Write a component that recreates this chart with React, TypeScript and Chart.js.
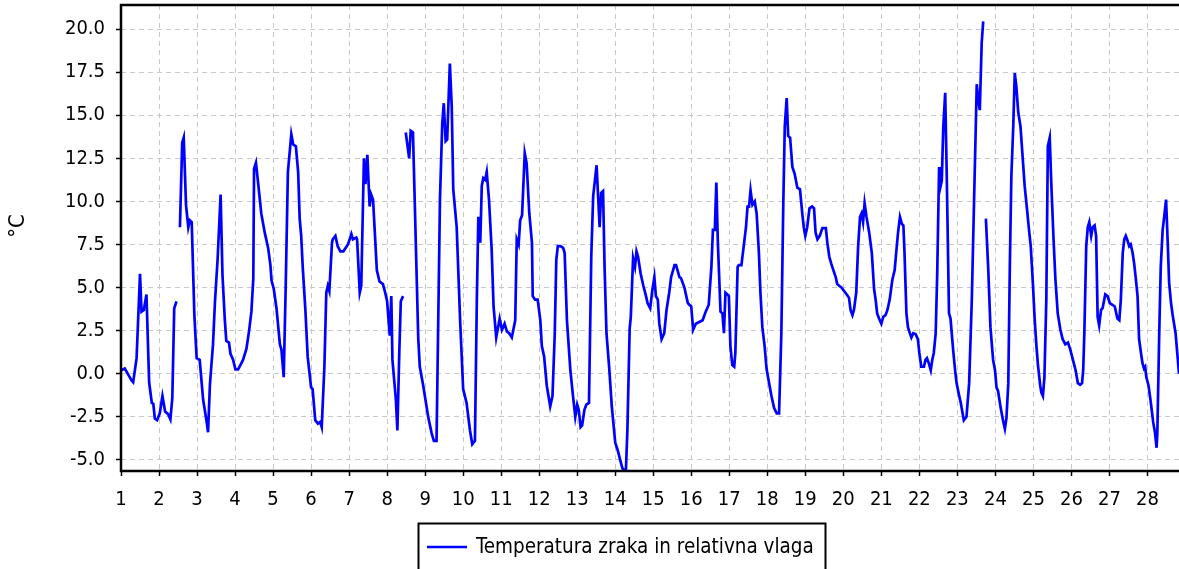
import React, { useEffect, useRef } from "react";
import { Chart, registerables } from "chart.js";

Chart.register(...registerables);

// ---------- data ----------
const seriesLabel = "Temperatura zraka in relativna vlaga";
const yAxisTitle = "°C";
const dayTicks = [1, 2, 3, 4, 5, 6, 7, 8, 9, 10, 11, 12, 13, 14, 15, 16, 17, 18, 19, 20, 21, 22, 23, 24, 25, 26, 27, 28];
const tempTicks = [-5, -2.5, 0, 2.5, 5, 7.5, 10, 12.5, 15, 17.5, 20];

// segment 1 (day 1 – 2.5)
const days1 = [1.0, 1.1, 1.28, 1.32, 1.41, 1.5, 1.54, 1.6, 1.67, 1.74, 1.81, 1.85, 1.89, 1.95, 2.02, 2.09, 2.16, 2.24, 2.3, 2.35, 2.4, 2.46];
const temps1 = [0.2, 0.3, -0.4, -0.5, 0.9, 5.8, 3.6, 3.7, 4.6, -0.5, -1.7, -1.75, -2.6, -2.7, -2.3, -1.3, -2.2, -2.35, -2.65, -1.4, 3.8, 4.2];

// segment 2 (day 2.5 – 8.4)
const days2 = [2.55, 2.61, 2.65, 2.71, 2.77, 2.81, 2.86, 2.93, 2.99, 3.07, 3.16, 3.25, 3.29, 3.34, 3.42, 3.47, 3.54, 3.62, 3.67, 3.73, 3.77, 3.84, 3.88, 3.95, 4.01, 4.08, 4.14, 4.21, 4.3, 4.37, 4.43, 4.48, 4.5, 4.55, 4.61, 4.69, 4.78, 4.87, 4.93, 4.96, 5.02, 5.09, 5.18, 5.22, 5.28, 5.33, 5.39, 5.48, 5.53, 5.6, 5.66, 5.7, 5.74, 5.78, 5.85, 5.91, 6.0, 6.04, 6.11, 6.18, 6.24, 6.28, 6.35, 6.4, 6.44, 6.48, 6.55, 6.57, 6.64, 6.7, 6.77, 6.85, 6.97, 7.06, 7.1, 7.19, 7.21, 7.28, 7.32, 7.39, 7.43, 7.48, 7.54, 7.58, 7.63, 7.73, 7.8, 7.89, 7.95, 8.0, 8.07, 8.11, 8.14, 8.23, 8.27, 8.32, 8.36, 8.42];
const temps2 = [8.5, 13.4, 13.7, 9.8, 8.5, 8.9, 8.8, 3.4, 0.9, 0.8, -1.5, -2.75, -3.4, -0.6, 1.7, 4.1, 6.6, 10.4, 5.7, 3.15, 1.9, 1.8, 1.15, 0.8, 0.25, 0.25, 0.5, 0.8, 1.45, 2.5, 3.6, 5.5, 11.9, 12.25, 11.0, 9.3, 8.2, 7.3, 6.3, 5.4, 4.9, 3.8, 1.7, 1.4, -0.2, 4.8, 11.7, 13.9, 13.3, 13.2, 11.7, 9.0, 8.0, 6.2, 3.7, 1.0, -0.8, -0.9, -2.7, -2.9, -2.8, -3.1, 0.4, 4.7, 5.1, 4.8, 7.6, 7.8, 8.0, 7.4, 7.1, 7.1, 7.5, 8.1, 7.8, 7.9, 7.8, 4.7, 5.1, 12.5, 11.0, 12.7, 9.7, 10.4, 10.1, 6.0, 5.35, 5.2, 4.7, 4.2, 2.2, 4.5, 0.8, -1.5, -3.3, 1.2, 4.2, 4.5];

// segment 3 (day 8.5 – 23.7)
const days3 = [8.49, 8.58, 8.62, 8.68, 8.82, 8.86, 8.95, 9.08, 9.17, 9.23, 9.3, 9.39, 9.45, 9.49, 9.54, 9.58, 9.65, 9.7, 9.74, 9.83, 9.92, 10.0, 10.09, 10.18, 10.24, 10.31, 10.36, 10.4, 10.45, 10.49, 10.53, 10.58, 10.62, 10.68, 10.75, 10.8, 10.87, 10.96, 11.02, 11.09, 11.15, 11.21, 11.28, 11.37, 11.41, 11.46, 11.5, 11.55, 11.62, 11.67, 11.74, 11.81, 11.83, 11.89, 11.96, 12.03, 12.07, 12.13, 12.2, 12.29, 12.35, 12.41, 12.45, 12.49, 12.56, 12.63, 12.67, 12.73, 12.82, 12.89, 12.95, 13.0, 13.04, 13.09, 13.13, 13.19, 13.24, 13.31, 13.37, 13.42, 13.51, 13.55, 13.59, 13.63, 13.68, 13.72, 13.77, 13.84, 13.91, 14.0, 14.06, 14.13, 14.19, 14.28, 14.32, 14.38, 14.41, 14.47, 14.52, 14.56, 14.6, 14.67, 14.74, 14.81, 14.85, 14.92, 14.98, 15.03, 15.07, 15.12, 15.16, 15.22, 15.29, 15.35, 15.42, 15.47, 15.56, 15.6, 15.69, 15.73, 15.82, 15.91, 15.95, 16.0, 16.05, 16.12, 16.21, 16.3, 16.38, 16.46, 16.53, 16.57, 16.62, 16.66, 16.7, 16.77, 16.82, 16.86, 16.9, 16.95, 16.99, 17.03, 17.08, 17.13, 17.16, 17.22, 17.25, 17.32, 17.38, 17.44, 17.48, 17.52, 17.56, 17.61, 17.67, 17.72, 17.78, 17.82, 17.87, 17.93, 17.98, 18.04, 18.11, 18.18, 18.25, 18.31, 18.37, 18.42, 18.46, 18.51, 18.55, 18.6, 18.66, 18.72, 18.79, 18.86, 18.92, 18.96, 19.0, 19.05, 19.11, 19.18, 19.23, 19.27, 19.32, 19.38, 19.45, 19.54, 19.58, 19.63, 19.68, 19.74, 19.8, 19.84, 19.89, 19.95, 20.02, 20.09, 20.15, 20.19, 20.24, 20.28, 20.34, 20.39, 20.44, 20.48, 20.52, 20.56, 20.61, 20.68, 20.75, 20.81, 20.85, 20.89, 20.94, 21.0, 21.05, 21.11, 21.16, 21.22, 21.29, 21.35, 21.39, 21.44, 21.49, 21.54, 21.58, 21.61, 21.66, 21.7, 21.75, 21.79, 21.84, 21.9, 21.96, 22.0, 22.05, 22.12, 22.16, 22.2, 22.25, 22.3, 22.34, 22.38, 22.43, 22.47, 22.52, 22.54, 22.59, 22.63, 22.68, 22.72, 22.78, 22.82, 22.89, 22.94, 22.98, 23.03, 23.09, 23.17, 23.24, 23.31, 23.38, 23.44, 23.51, 23.55, 23.59, 23.64, 23.68];
const temps3 = [14.0, 12.5, 14.1, 14.0, 2.0, 0.4, -0.7, -2.5, -3.45, -3.9, -3.9, 10.1, 14.5, 15.7, 13.5, 13.6, 18.0, 15.5, 10.7, 8.5, 3.1, -0.9, -1.7, -3.3, -4.1, -3.9, 4.3, 9.1, 7.6, 10.9, 11.35, 11.25, 11.7, 10.1, 7.2, 3.9, 2.1, 3.2, 2.55, 2.9, 2.45, 2.35, 2.1, 3.1, 7.8, 7.5, 8.9, 9.2, 12.8, 12.2, 9.3, 7.6, 4.5, 4.3, 4.3, 3.1, 1.6, 1.0, -0.7, -1.9, -1.3, 2.35, 6.6, 7.4, 7.4, 7.3, 7.0, 3.1, 0.2, -1.3, -2.5, -1.8, -2.1, -3.1, -3.0, -2.1, -1.8, -1.7, 6.8, 10.3, 12.1, 10.3, 8.5, 10.5, 10.6, 6.2, 2.35, 0.4, -1.9, -4.0, -4.4, -5.0, -5.5, -5.7, -3.3, 2.6, 3.3, 6.7, 6.2, 7.1, 6.8, 5.8, 5.1, 4.5, 4.1, 3.8, 4.9, 5.6, 4.5, 4.3, 2.9, 2.0, 2.35, 3.7, 4.7, 5.6, 6.3, 6.3, 5.6, 5.55, 5.0, 4.1, 4.0, 3.9, 2.55, 2.9, 3.0, 3.1, 3.6, 4.0, 6.2, 8.35, 8.35, 11.1, 7.6, 3.6, 3.5, 2.35, 4.7, 4.6, 4.5, 1.6, 0.5, 0.4, 1.2, 6.2, 6.3, 6.3, 7.4, 8.5, 9.7, 9.7, 10.65, 9.8, 10.0, 9.3, 7.0, 4.7, 2.7, 1.6, 0.3, -0.45, -1.3, -2.0, -2.3, -2.3, 2.35, 9.7, 14.35, 16.0, 13.8, 13.7, 12.0, 11.6, 10.8, 10.7, 9.3, 8.5, 8.0, 8.5, 9.6, 9.7, 9.6, 8.2, 7.8, 8.0, 8.45, 8.45, 7.6, 6.8, 6.4, 6.0, 5.6, 5.2, 5.1, 5.0, 4.8, 4.6, 4.4, 3.7, 3.4, 3.7, 4.7, 7.4, 9.1, 9.3, 8.8, 9.9, 9.1, 8.2, 7.0, 4.9, 4.3, 3.5, 3.2, 2.9, 3.3, 3.4, 3.7, 4.3, 5.45, 6.0, 7.0, 8.2, 9.1, 8.7, 8.6, 7.0, 3.5, 2.7, 2.35, 2.1, 2.35, 2.3, 2.0, 1.2, 0.4, 0.4, 0.8, 0.9, 0.6, 0.2, 0.8, 1.2, 2.35, 5.8, 12.0, 10.7, 11.2, 14.35, 16.3, 11.6, 3.5, 3.2, 1.35, 0.2, -0.55, -1.1, -1.7, -2.7, -2.5, -0.55, 4.3, 10.1, 16.8, 15.9, 15.3, 19.2, 20.45];

// segment 4 (day 23.75 – end)
const days4 = [23.75, 23.81, 23.87, 23.94, 23.99, 24.03, 24.07, 24.14, 24.2, 24.25, 24.29, 24.34, 24.38, 24.42, 24.47, 24.51, 24.55, 24.6, 24.66, 24.71, 24.77, 24.83, 24.88, 24.93, 24.99, 25.03, 25.08, 25.12, 25.18, 25.21, 25.25, 25.29, 25.34, 25.38, 25.43, 25.47, 25.53, 25.58, 25.64, 25.71, 25.77, 25.84, 25.91, 25.97, 26.04, 26.11, 26.17, 26.23, 26.28, 26.31, 26.34, 26.39, 26.43, 26.47, 26.52, 26.56, 26.61, 26.65, 26.69, 26.73, 26.78, 26.82, 26.89, 26.95, 27.01, 27.08, 27.14, 27.21, 27.26, 27.3, 27.35, 27.39, 27.43, 27.48, 27.52, 27.56, 27.61, 27.65, 27.69, 27.74, 27.78, 27.83, 27.87, 27.91, 27.94, 27.97, 28.03, 28.09, 28.15, 28.2, 28.24, 28.26, 28.31, 28.35, 28.4, 28.44, 28.49, 28.53, 28.57, 28.62, 28.67, 28.74, 28.83];
const temps4 = [9.0, 6.2, 2.7, 0.8, 0.2, -0.8, -1.0, -2.0, -2.7, -3.2, -2.6, -0.55, 6.2, 11.45, 14.35, 17.45, 16.7, 15.2, 14.35, 12.8, 10.9, 9.6, 8.45, 7.4, 5.1, 3.3, 1.6, 0.5, -0.7, -1.1, -1.3, -0.2, 4.3, 13.2, 13.7, 11.1, 7.8, 5.45, 3.5, 2.55, 2.0, 1.7, 1.8, 1.4, 0.8, 0.2, -0.55, -0.65, -0.55, 0.2, 2.35, 7.4, 8.5, 8.8, 8.0, 8.5, 8.6, 8.0, 3.3, 2.8, 3.7, 3.8, 4.6, 4.5, 4.1, 4.0, 3.9, 3.2, 3.1, 4.3, 7.0, 7.8, 8.0, 7.7, 7.4, 7.5, 7.0, 6.4, 5.6, 4.5, 2.0, 1.2, 0.6, 0.3, 0.4, -0.2, -0.7, -1.7, -2.8, -3.45, -4.3, -3.45, 2.35, 6.2, 8.35, 9.1, 10.1, 7.8, 5.3, 4.1, 3.3, 2.35, 0.0];

// ---------- look ----------
const FONT_FAMILY = '"DejaVu Sans Condensed", "DejaVu Sans", sans-serif';
const LINE_COLOR = "#0000ff";

type Pt = { x: number; y: number | null };

function buildPoints(): Pt[] {
  const segs: [number[], number[]][] = [
    [days1, temps1],
    [days2, temps2],
    [days3, temps3],
    [days4, temps4],
  ];
  const out: Pt[] = [];
  segs.forEach(([d, t], si) => {
    d.forEach((x, i) => out.push({ x, y: t[i] }));
    if (si < segs.length - 1) out.push({ x: d[d.length - 1] + 0.02, y: null });
  });
  return out;
}

const framePlugin = {
  id: "frameAndLegend",
  afterDraw(chart: any) {
    const { ctx, chartArea } = chart;
    const { left, top, right, bottom } = chartArea;
    ctx.save();
    // plot frame (right side runs off the canvas)
    ctx.strokeStyle = "#000";
    ctx.lineWidth = 2.5;
    ctx.setLineDash([]);
    ctx.beginPath();
    ctx.moveTo(right + 5, top);
    ctx.lineTo(left, top);
    ctx.lineTo(left, bottom);
    ctx.lineTo(right + 5, bottom);
    ctx.stroke();

    // y title
    ctx.fillStyle = "#000";
    ctx.font = `22px ${FONT_FAMILY}`;
    ctx.textAlign = "center";
    ctx.textBaseline = "middle";
    ctx.translate(18, 226);
    ctx.rotate(-Math.PI / 2);
    ctx.fillText(yAxisTitle, 0, 0);
    ctx.restore();

    // legend
    ctx.save();
    const boxL = 418.5, boxT = 523.5, boxR = 825.5;
    ctx.strokeStyle = "#000";
    ctx.lineWidth = 2;
    ctx.beginPath();
    ctx.moveTo(boxL, 580);
    ctx.lineTo(boxL, boxT);
    ctx.lineTo(boxR, boxT);
    ctx.lineTo(boxR, 580);
    ctx.stroke();
    ctx.strokeStyle = chart.data.datasets[0].borderColor;
    ctx.lineWidth = 2.5;
    ctx.beginPath();
    ctx.moveTo(427, 547);
    ctx.lineTo(467, 547);
    ctx.stroke();
    let size = 20;
    ctx.font = `${size}px ${FONT_FAMILY}`;
    const w = ctx.measureText(chart.data.datasets[0].label).width;
    size = Math.min(22, Math.max(14, size * 338 / w));
    ctx.font = `${size}px ${FONT_FAMILY}`;
    ctx.fillStyle = "#000";
    ctx.textAlign = "left";
    ctx.textBaseline = "middle";
    ctx.fillText(chart.data.datasets[0].label, 476, 548);
    ctx.restore();
  },
};

export default function App() {
  const ref = useRef<HTMLCanvasElement | null>(null);

  useEffect(() => {
    if (!ref.current) return;
    const tickFont = { family: FONT_FAMILY, size: 20 };
    const gridOpts = {
      color: "#c8c8c8",
      lineWidth: 1,
      tickLength: 5,
      tickColor: "#000",
      tickWidth: 1.5,
      tickBorderDash: [],
    };
    const chart = new Chart(ref.current, {
      type: "line",
      data: {
        datasets: [
          {
            label: seriesLabel,
            data: buildPoints() as any,
            borderColor: LINE_COLOR,
            backgroundColor: LINE_COLOR,
            borderWidth: 2.7,
            pointRadius: 0,
            tension: 0,
            spanGaps: false,
          },
        ],
      },
      options: {
        responsive: false,
        animation: false,
        devicePixelRatio: 1,
        parsing: false as any,
        layout: { padding: { top: 5, right: 0, bottom: 0, left: 0 } },
        plugins: {
          legend: { display: false },
          tooltip: { enabled: false },
        },
        scales: {
          x: {
            type: "linear",
            min: 1,
            max: 28.83,
            afterBuildTicks: (s: any) => {
              s.ticks = dayTicks.map((v) => ({ value: v }));
            },
            afterFit: (s: any) => {
              s.height = 98;
              s.paddingLeft = 0;
              s.paddingRight = 0;
            },
            ticks: {
              autoSkip: false,
              maxRotation: 0,
              color: "#000",
              font: tickFont,
              padding: 12,
              callback: (v: any) => String(v),
            },
            grid: gridOpts,
            border: { display: false, dash: [5, 4] },
          },
          y: {
            type: "linear",
            min: -5.65,
            max: 21.4,
            afterBuildTicks: (s: any) => {
              s.ticks = tempTicks.map((v) => ({ value: v }));
            },
            afterFit: (s: any) => {
              s.width = 121;
              s.paddingTop = 0;
              s.paddingBottom = 0;
            },
            ticks: {
              color: "#000",
              font: tickFont,
              padding: 11,
              callback: (v: any) => Number(v).toFixed(1),
            },
            grid: gridOpts,
            border: { display: false, dash: [5, 4] },
          },
        },
      },
      plugins: [framePlugin],
    });
    return () => chart.destroy();
  }, []);

  return (
    <div style={{ position: "absolute", left: 0, top: 0, width: 1179, height: 569, background: "#fff" }}>
      <canvas ref={ref} width={1179} height={569} style={{ display: "block", width: 1179, height: 569 }} />
    </div>
  );
}
